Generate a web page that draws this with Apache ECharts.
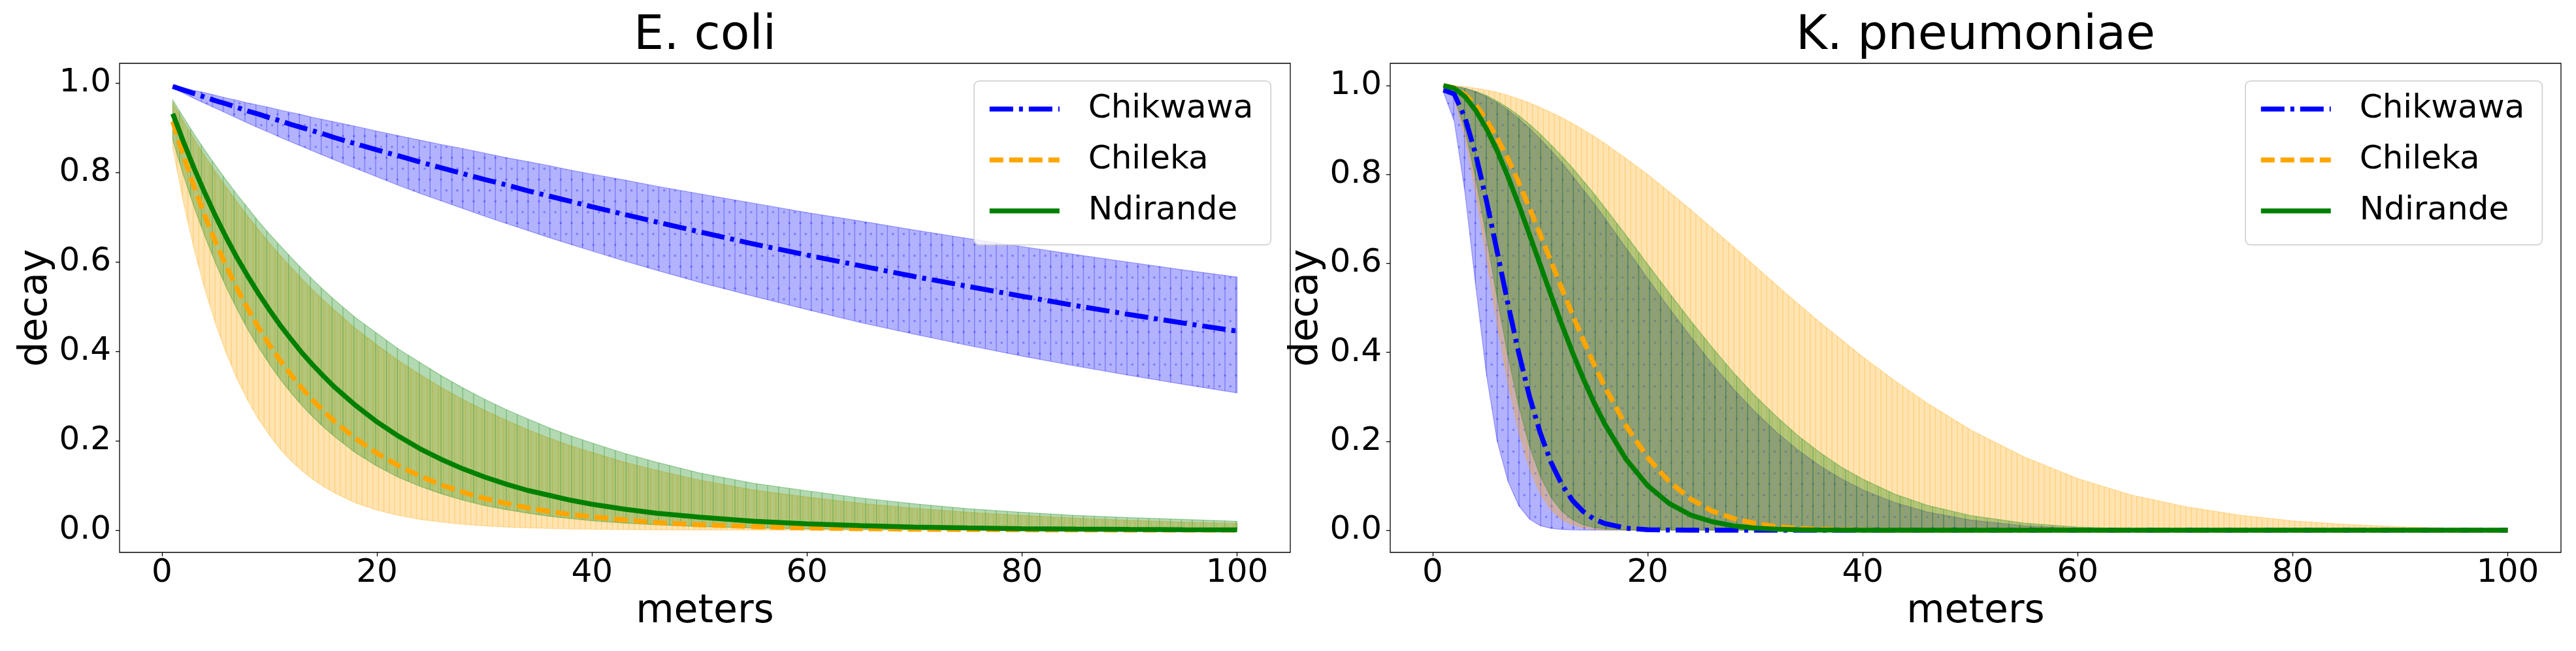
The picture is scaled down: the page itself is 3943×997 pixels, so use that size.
<!DOCTYPE html>
<html>
<head>
<meta charset="utf-8">
<script src="https://cdn.jsdelivr.net/npm/echarts@6/dist/echarts.min.js"></script>
<style>
html,body{margin:0;padding:0;background:#fff;}
#chart{width:3943px;height:997px;}
</style>
</head>
<body>
<div id="chart"></div>
<script>
// ---- data ----
const NAMES = ['Chikwawa', 'Chileka', 'Ndirande'];
const X_TICKS = [0, 20, 40, 60, 80, 100];
const Y_TICKS = [0, 0.2, 0.4, 0.6, 0.8, 1.0];
const X = [1,2,3,4,5,6,7,8,9,10,11,12,13,14,15,16,18,20,22,24,26,28,30,32,34,36,38,40,43,46,50,55,60,65,70,75,80,85,90,95,100];

// E. coli
const ecoliChikwawa   = [0.992,0.984,0.976,0.968,0.960,0.953,0.945,0.937,0.930,0.922,0.915,0.907,0.900,0.893,0.886,0.878,0.864,0.850,0.837,0.823,0.810,0.797,0.784,0.772,0.759,0.747,0.735,0.723,0.706,0.689,0.667,0.640,0.615,0.591,0.567,0.545,0.523,0.502,0.482,0.463,0.445];
const ecoliChikwawaHi = [0.994,0.989,0.983,0.978,0.972,0.966,0.961,0.955,0.950,0.945,0.939,0.934,0.929,0.923,0.918,0.913,0.903,0.892,0.882,0.872,0.862,0.853,0.843,0.833,0.824,0.815,0.805,0.796,0.783,0.769,0.752,0.731,0.710,0.691,0.671,0.652,0.634,0.616,0.599,0.582,0.566];
const ecoliChikwawaLo = [0.988,0.977,0.965,0.954,0.943,0.932,0.921,0.910,0.899,0.889,0.878,0.868,0.858,0.848,0.838,0.828,0.809,0.790,0.771,0.753,0.736,0.719,0.702,0.686,0.670,0.654,0.639,0.624,0.602,0.581,0.554,0.523,0.493,0.464,0.438,0.413,0.389,0.367,0.346,0.326,0.307];
const ecoliChileka    = [0.914,0.837,0.767,0.702,0.643,0.589,0.539,0.494,0.452,0.414,0.379,0.347,0.318,0.291,0.267,0.244,0.205,0.172,0.144,0.121,0.101,0.085,0.071,0.060,0.050,0.042,0.035,0.030,0.023,0.017,0.012,0.008,0.005,0.0033,0.0021,0.0014,0.0009,0.0006,0.0004,0.0002,0.0002];
const ecoliChilekaHi  = [0.955,0.914,0.874,0.836,0.800,0.766,0.733,0.701,0.671,0.642,0.614,0.588,0.562,0.538,0.515,0.493,0.451,0.414,0.379,0.348,0.319,0.292,0.268,0.246,0.225,0.206,0.189,0.174,0.152,0.134,0.112,0.090,0.074,0.060,0.049,0.040,0.033,0.027,0.022,0.018,0.015];
const ecoliChilekaLo  = [0.855,0.732,0.627,0.537,0.460,0.394,0.337,0.289,0.247,0.212,0.181,0.155,0.133,0.114,0.098,0.084,0.061,0.045,0.033,0.024,0.018,0.013,0.0095,0.0070,0.0051,0.0038,0.0028,0.0020,0.0013,0.0008,0.0004,0.0002,0.0001,0.0001,0,0,0,0,0,0,0];
const ecoliNdirande   = [0.931,0.868,0.808,0.753,0.701,0.653,0.608,0.567,0.528,0.492,0.458,0.427,0.397,0.370,0.345,0.321,0.279,0.242,0.210,0.182,0.158,0.137,0.119,0.103,0.089,0.078,0.067,0.058,0.047,0.038,0.029,0.020,0.014,0.010,0.0069,0.0049,0.0034,0.0024,0.0017,0.0012,0.0008];
const ecoliNdirandeHi = [0.962,0.923,0.885,0.849,0.815,0.782,0.750,0.720,0.690,0.662,0.636,0.610,0.585,0.561,0.538,0.516,0.475,0.440,0.405,0.375,0.345,0.318,0.293,0.270,0.249,0.229,0.211,0.195,0.172,0.152,0.128,0.105,0.088,0.072,0.059,0.048,0.040,0.033,0.028,0.024,0.020];
const ecoliNdirandeLo = [0.872,0.793,0.721,0.656,0.596,0.542,0.493,0.448,0.408,0.371,0.337,0.307,0.279,0.254,0.231,0.210,0.173,0.143,0.118,0.098,0.081,0.067,0.055,0.046,0.038,0.031,0.026,0.021,0.016,0.012,0.008,0.005,0.003,0.002,0.0012,0.0008,0.0005,0.0003,0.0002,0.0001,0.0001];

// K. pneumoniae
const kpChikwawa   = [0.990,0.981,0.928,0.845,0.741,0.626,0.509,0.399,0.301,0.219,0.153,0.103,0.067,0.042,0.025,0.015,0.0044,0.0011,0.0003,0.0001,0,0,0,0,0,0,0,0,0,0,0,0,0,0,0,0,0,0,0,0,0];
const kpChikwawaHi = [1.0,0.998,0.994,0.986,0.975,0.961,0.945,0.926,0.904,0.880,0.854,0.827,0.797,0.766,0.735,0.702,0.634,0.566,0.499,0.435,0.374,0.317,0.266,0.220,0.180,0.145,0.116,0.091,0.062,0.041,0.023,0.010,0.0042,0.0016,0.0005,0.0002,0.0001,0,0,0,0];
const kpChikwawaLo = [0.985,0.920,0.760,0.550,0.350,0.200,0.110,0.055,0.025,0.010,0.004,0.0015,0.0005,0.0002,0.0001,0,0,0,0,0,0,0,0,0,0,0,0,0,0,0,0,0,0,0,0,0,0,0,0,0,0];
const kpChileka    = [1.0,0.995,0.980,0.956,0.923,0.882,0.835,0.782,0.725,0.665,0.605,0.544,0.485,0.428,0.373,0.323,0.234,0.163,0.109,0.070,0.043,0.026,0.015,0.008,0.0042,0.0021,0.0010,0.0005,0.0001,0,0,0,0,0,0,0,0,0,0,0,0];
const kpChilekaHi  = [1.0,0.999,0.998,0.994,0.990,0.985,0.978,0.970,0.961,0.951,0.940,0.928,0.915,0.901,0.886,0.870,0.836,0.800,0.761,0.721,0.679,0.637,0.594,0.551,0.509,0.468,0.429,0.390,0.336,0.286,0.226,0.165,0.116,0.079,0.053,0.034,0.021,0.013,0.0075,0.0042,0.0023];
const kpChilekaLo  = [1.0,0.970,0.884,0.758,0.611,0.463,0.330,0.221,0.139,0.083,0.046,0.024,0.012,0.0055,0.0024,0.0010,0.0001,0,0,0,0,0,0,0,0,0,0,0,0,0,0,0,0,0,0,0,0,0,0,0,0];
const kpNdirande   = [1.0,0.994,0.975,0.944,0.903,0.853,0.795,0.732,0.665,0.597,0.529,0.463,0.400,0.341,0.287,0.239,0.159,0.100,0.060,0.034,0.019,0.0096,0.0047,0.0022,0.0010,0.0004,0.0002,0.0001,0,0,0,0,0,0,0,0,0,0,0,0,0];
const kpNdirandeHi = [1.0,0.999,0.994,0.987,0.978,0.965,0.950,0.933,0.913,0.891,0.867,0.842,0.815,0.786,0.757,0.726,0.663,0.598,0.534,0.471,0.411,0.354,0.302,0.255,0.212,0.175,0.142,0.115,0.081,0.056,0.033,0.016,0.007,0.0029,0.0011,0.0004,0.0001,0,0,0,0];
const kpNdirandeLo = [1.0,0.974,0.901,0.791,0.660,0.522,0.392,0.280,0.189,0.122,0.074,0.043,0.024,0.012,0.006,0.003,0.0005,0.0001,0,0,0,0,0,0,0,0,0,0,0,0,0,0,0,0,0,0,0,0,0,0,0];

// ---- styling ----
const FONT = 'DejaVu Sans';
const COLORS = ['#0000ff', '#ffa500', '#008000'];
const FILLS = ['rgba(0,0,255,0.3)', 'rgba(255,165,0,0.3)', 'rgba(0,128,0,0.3)'];
const DASHES = [[36, 9, 6, 9], [21, 9], 'solid'];
const LW = 7.5;

function makeHatch(color, nLines, dots) {
  const c = document.createElement('canvas');
  c.width = 100; c.height = 100;
  const g = c.getContext('2d');
  g.strokeStyle = color; g.lineWidth = 1.4;
  const step = 100 / nLines;
  for (let i = 0; i < nLines; i++) {
    const x = i * step + step / 2;
    g.beginPath(); g.moveTo(x, 0); g.lineTo(x, 100); g.stroke();
  }
  if (dots) {
    g.fillStyle = color;
    const p = 100 / 6;
    for (let r = 0; r < 6; r++) {
      const y = r * p + p / 2;
      for (let k = 0; k <= 6; k++) {
        const x = (r % 2 === 0) ? (k * p + p / 2) : (k * p);
        if (x > 100.01) continue;
        g.beginPath(); g.arc(x, y, 1.8, 0, Math.PI * 2); g.fill();
      }
    }
  }
  return c;
}
const HATCH = [
  makeHatch('rgba(0,0,255,0.3)', 6, true),
  makeHatch('rgba(255,165,0,0.3)', 12, false),
  makeHatch('rgba(0,128,0,0.3)', 6, false)
];

function bandSeries(name, gi, k, lo, hi) {
  return {
    type: 'custom', name: name + ' band', xAxisIndex: gi, yAxisIndex: gi,
    silent: true, z: 1,
    data: X.map((x, i) => [x, lo[i], hi[i]]),
    encode: { x: 0, y: [1, 2] },
    renderItem: function (params, api) {
      if (params.dataIndex !== 0) return null;
      const pts = [];
      for (let i = 0; i < X.length; i++) pts.push(api.coord([X[i], hi[i]]));
      for (let i = X.length - 1; i >= 0; i--) pts.push(api.coord([X[i], lo[i]]));
      return {
        type: 'group',
        children: [
          { type: 'polygon', shape: { points: pts }, style: { fill: FILLS[k], stroke: FILLS[k], lineWidth: 1.3 } },
          { type: 'polygon', shape: { points: pts }, style: { fill: { image: HATCH[k], repeat: 'repeat' }, stroke: null } }
        ]
      };
    }
  };
}

function lineSeries(gi, k, y) {
  return {
    type: 'line', name: NAMES[k], xAxisIndex: gi, yAxisIndex: gi,
    data: X.map((x, i) => [x, y[i]]),
    symbol: 'none', z: 5, silent: true,
    itemStyle: { color: COLORS[k] },
    lineStyle: { color: COLORS[k], width: LW, type: DASHES[k], cap: 'butt' }
  };
}

const PLOTS = [
  { title: 'E. coli', left: 183, ymin: -0.0497, ymax: 1.0437,
    mean: [ecoliChikwawa, ecoliChileka, ecoliNdirande],
    lo: [ecoliChikwawaLo, ecoliChilekaLo, ecoliNdirandeLo],
    hi: [ecoliChikwawaHi, ecoliChilekaHi, ecoliNdirandeHi], legendLeft: 1491 },
  { title: 'K. pneumoniae', left: 2128, ymin: -0.05, ymax: 1.05,
    mean: [kpChikwawa, kpChileka, kpNdirande],
    lo: [kpChikwawaLo, kpChilekaLo, kpNdirandeLo],
    hi: [kpChikwawaHi, kpChilekaHi, kpNdirandeHi], legendLeft: 3437 }
];
const GRID_W = 1792, GRID_TOP = 97, GRID_H = 749;

const option = {
  backgroundColor: '#ffffff',
  animation: false,
  title: PLOTS.map(p => ({
    text: p.title, left: p.left + GRID_W / 2 - 5, top: 15, textAlign: 'center',
    textStyle: { fontFamily: FONT, fontSize: 73, fontWeight: 'normal', color: '#000' }
  })),
  grid: PLOTS.map(p => ({
    left: p.left, top: GRID_TOP, width: GRID_W, height: GRID_H,
    show: true, borderColor: '#000', borderWidth: 1.3, backgroundColor: '#fff', containLabel: false
  })),
  legend: PLOTS.map(p => ({
    left: p.legendLeft, top: 124, orient: 'vertical', data: NAMES,
    itemWidth: 107, itemHeight: 20, itemGap: 22, padding: [15, 27, 24, 20],
    backgroundColor: 'rgba(255,255,255,0.8)', borderColor: '#cccccc', borderWidth: 1.5, borderRadius: 8,
    selectedMode: false,
    itemStyle: { opacity: 0 },
    lineStyle: { width: LW },
    textStyle: { fontFamily: FONT, fontSize: 50, color: '#000', lineHeight: 56, padding: [0, 0, 0, 39] }
  })),
  xAxis: PLOTS.map((p, gi) => ({
    type: 'value', gridIndex: gi, min: -3.95, max: 104.95, position: 'bottom',
    splitLine: { show: false }, axisLine: { show: false, onZero: false },
    axisTick: { show: true, length: 6, lineStyle: { color: '#000', width: 1.3 }, customValues: X_TICKS },
    axisLabel: { customValues: X_TICKS, fontFamily: FONT, fontSize: 50, color: '#000', margin: 7,
      formatter: v => String(Math.round(v)) },
    name: 'meters', nameLocation: 'middle', nameGap: 61,
    nameTextStyle: { fontFamily: FONT, fontSize: 60, color: '#000' }
  })),
  yAxis: PLOTS.map((p, gi) => ({
    type: 'value', gridIndex: gi, min: p.ymin, max: p.ymax, position: 'left',
    splitLine: { show: false }, axisLine: { show: false, onZero: false },
    axisTick: { show: true, length: 6, lineStyle: { color: '#000', width: 1.3 }, customValues: Y_TICKS },
    axisLabel: { customValues: Y_TICKS, fontFamily: FONT, fontSize: 50, color: '#000', margin: 13,
      formatter: v => v.toFixed(1) },
    name: 'decay', nameLocation: 'middle', nameGap: 98,
    nameTextStyle: { fontFamily: FONT, fontSize: 60, color: '#000' }
  })),
  series: []
};

PLOTS.forEach((p, gi) => {
  for (let k = 0; k < 3; k++) option.series.push(bandSeries(NAMES[k], gi, k, p.lo[k], p.hi[k]));
});
PLOTS.forEach((p, gi) => {
  for (let k = 0; k < 3; k++) option.series.push(lineSeries(gi, k, p.mean[k]));
});

const chart = echarts.init(document.getElementById('chart'), null, { renderer: 'canvas', width: 3943, height: 997 });
chart.setOption(option);
</script>
</body>
</html>
